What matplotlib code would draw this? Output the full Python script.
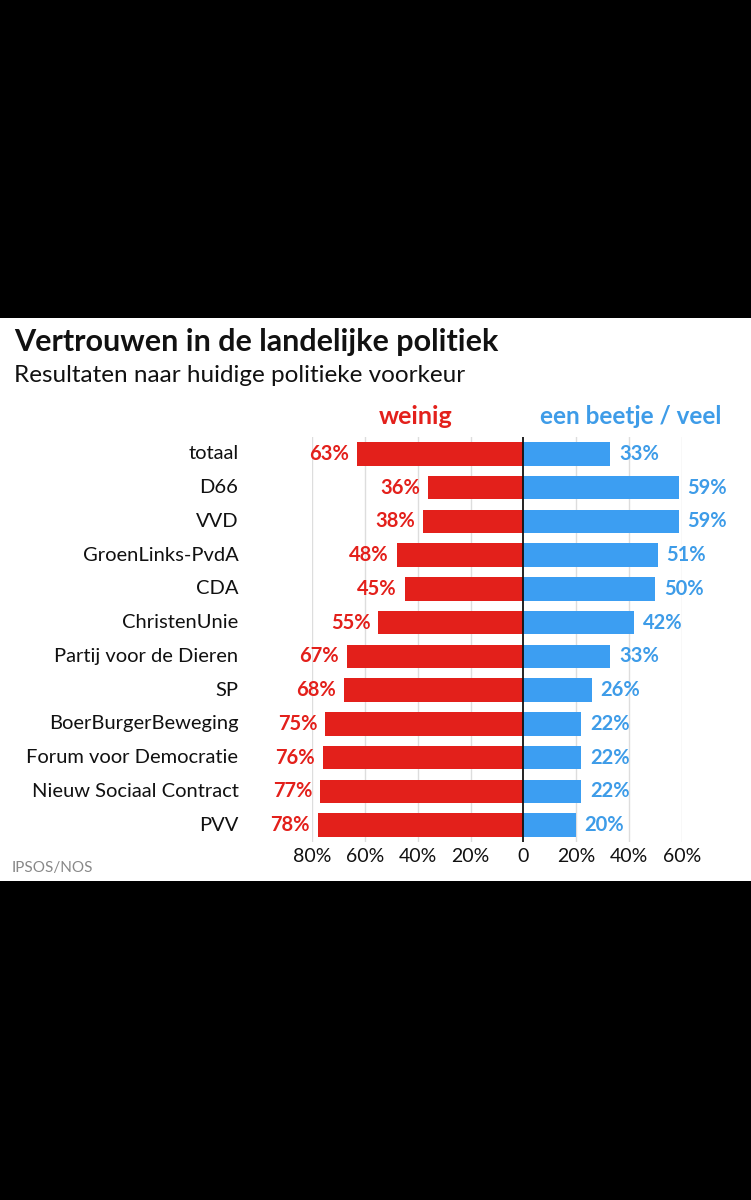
import matplotlib.pyplot as plt
from matplotlib.patches import Rectangle

# data
partijen = ["totaal", "D66", "VVD", "GroenLinks-PvdA", "CDA", "ChristenUnie",
            "Partij voor de Dieren", "SP", "BoerBurgerBeweging",
            "Forum voor Democratie", "Nieuw Sociaal Contract", "PVV"]
weinig = [63, 36, 38, 48, 45, 55, 67, 68, 75, 76, 77, 78]
beetje_veel = [33, 59, 59, 51, 50, 42, 33, 26, 22, 22, 22, 20]
tick_vals = [-80, -60, -40, -20, 0, 20, 40, 60]
tick_labels = ["80%", "60%", "40%", "20%", "0", "20%", "40%", "60%"]

RED = "#e3201b"
BLUE = "#3c9ef2"
BLUE_TXT = "#3e9ce8"

plt.rcParams["font.family"] = ["Lato", "DejaVu Sans"]

W, H = 751, 1200
fig = plt.figure(figsize=(W / 100, H / 100), dpi=100)
fig.patch.set_facecolor("black")

# white card in the middle
fig.add_artist(Rectangle((0, (H - 881) / H), 1, (881 - 318) / H,
                         transform=fig.transFigure, facecolor="white",
                         edgecolor="none", zorder=0))

# axes placed in pixel coordinates of the reference
x0, x1 = 312.3, 681.7
y_top, y_bot = 437, 842
ax = fig.add_axes([x0 / W, (H - y_bot) / H, (x1 - x0) / W, (y_bot - y_top) / H])
ax.set_facecolor("none")

y = list(range(len(partijen)))
ax.barh(y, [-v for v in weinig], height=0.69, color=RED, zorder=2)
ax.barh(y, beetje_veel, height=0.69, color=BLUE, zorder=2)

for i in y:
    ax.text(-weinig[i] - 3.0, i, f"{weinig[i]}%", ha="right", va="center",
            color=RED, fontsize=14.5, fontweight="bold", zorder=3)
    ax.text(beetje_veel[i] + 3.2, i, f"{beetje_veel[i]}%", ha="left", va="center",
            color=BLUE_TXT, fontsize=14.5, fontweight="bold", zorder=3, clip_on=False)
    ax.text(-108, i, partijen[i], ha="right", va="center", color="#111111",
            fontsize=14.5, zorder=3)

ax.set_xlim(-80, 60)
ax.set_ylim(len(partijen) - 0.5, -0.5)

for t in tick_vals:
    if t != 0:
        ax.axvline(t, color="#dddddd", lw=1, zorder=1)
ax.axvline(0, color="#111111", lw=1.3, zorder=4)

ax.set_xticks(tick_vals)
ax.set_xticklabels(tick_labels, fontsize=14, color="#111111")
ax.tick_params(axis="x", length=0, pad=4)
ax.set_yticks([])
for s in ax.spines.values():
    s.set_visible(False)

# headers above the bars
ax.text(-41, -1.1, "weinig", ha="center", va="center", color=RED,
        fontsize=18, fontweight="bold")
ax.text(40.5, -1.1, "een beetje / veel", ha="center", va="center", color=BLUE_TXT,
        fontsize=17.5, fontweight="bold", clip_on=False)

# titles and source
fig.text(14 / W, (H - 342) / H, "Vertrouwen in de landelijke politiek",
         fontsize=22, fontweight="bold", color="#111111", va="center")
fig.text(14 / W, (H - 375) / H, "Resultaten naar huidige politieke voorkeur",
         fontsize=17.5, color="#111111", va="center")
fig.text(12 / W, (H - 868) / H, "IPSOS/NOS", fontsize=11, color="#888888",
         va="center")

fig.savefig("out.png", dpi=100, facecolor=fig.get_facecolor())
